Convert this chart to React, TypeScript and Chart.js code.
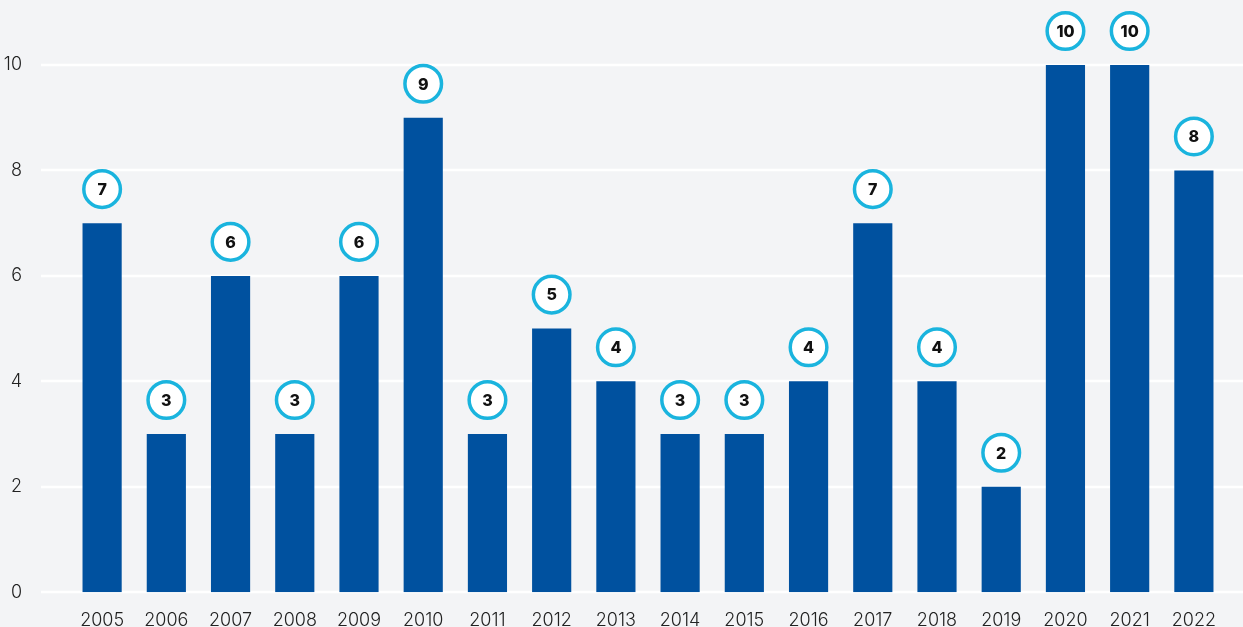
import React, { useEffect, useRef } from "react";
import { Chart, registerables } from "chart.js";

Chart.register(...registerables);

const years = ["2005","2006","2007","2008","2009","2010","2011","2012","2013","2014","2015","2016","2017","2018","2019","2020","2021","2022"];
const counts = [7, 3, 6, 3, 6, 9, 3, 5, 4, 3, 3, 4, 7, 4, 2, 10, 10, 8];
const yTicks = [0, 2, 4, 6, 8, 10];

const BG = "#f3f4f6";
const BAR = "#00519f";
const RING = "#1ab4de";
const FONT = "Inter, 'Noto Sans', sans-serif";

const gridPlugin = {
  id: "fullGrid",
  beforeDatasetsDraw(chart: any) {
    const { ctx } = chart;
    const y = chart.scales.y;
    ctx.save();
    ctx.strokeStyle = "#ffffff";
    ctx.lineWidth = 2.5;
    yTicks.forEach((v) => {
      const py = Math.round(y.getPixelForValue(v));
      ctx.beginPath();
      ctx.moveTo(41, py);
      ctx.lineTo(chart.width, py);
      ctx.stroke();
    });
    ctx.restore();
  },
};

const badgePlugin = {
  id: "badges",
  afterDatasetsDraw(chart: any) {
    const { ctx } = chart;
    const meta = chart.getDatasetMeta(0);
    ctx.save();
    meta.data.forEach((bar: any, i: number) => {
      const cx = bar.x;
      const cy = bar.y - 34;
      ctx.beginPath();
      ctx.arc(cx, cy, 18.3, 0, Math.PI * 2);
      ctx.fillStyle = "#ffffff";
      ctx.fill();
      ctx.lineWidth = 3.5;
      ctx.strokeStyle = RING;
      ctx.stroke();
      ctx.fillStyle = "#111111";
      ctx.font = `800 16px ${FONT}`;
      ctx.textAlign = "center";
      ctx.textBaseline = "middle";
      ctx.fillText(String(counts[i]), cx, cy + 1);
    });
    ctx.restore();
  },
};

export default function App() {
  const ref = useRef<HTMLCanvasElement | null>(null);

  useEffect(() => {
    document.body.style.margin = "0";
    document.body.style.background = BG;
    document.body.style.overflow = "hidden";
    const chart = new Chart(ref.current as HTMLCanvasElement, {
      type: "bar",
      data: {
        labels: years,
        datasets: [
          {
            data: counts,
            backgroundColor: BAR,
            categoryPercentage: 1,
            barPercentage: 0.61,
          },
        ],
      },
      options: {
        animation: false,
        responsive: false,
        maintainAspectRatio: false,
        layout: { padding: { top: 65, right: 17, left: 0, bottom: 0 } },
        plugins: { legend: { display: false }, tooltip: { enabled: false } },
        scales: {
          x: {
            grid: { display: false },
            border: { display: false },
            ticks: {
              color: "#222222",
              font: { family: FONT, size: 18, weight: "300" as any },
              padding: 10,
            },
          },
          y: {
            min: 0,
            max: 10,
            afterFit(scale: any) {
              scale.width = 70;
            },
            grid: { display: false },
            border: { display: false },
            ticks: {
              stepSize: 2,
              color: "#222222",
              font: { family: FONT, size: 18, weight: "300" as any },
              padding: 40,
            },
          },
        },
      },
      plugins: [gridPlugin, badgePlugin],
    });
    return () => chart.destroy();
  }, []);

  return (
    <div style={{ width: 1243, height: 643, background: BG }}>
      <canvas ref={ref} width={1243} height={643} style={{ display: "block" }} />
    </div>
  );
}
